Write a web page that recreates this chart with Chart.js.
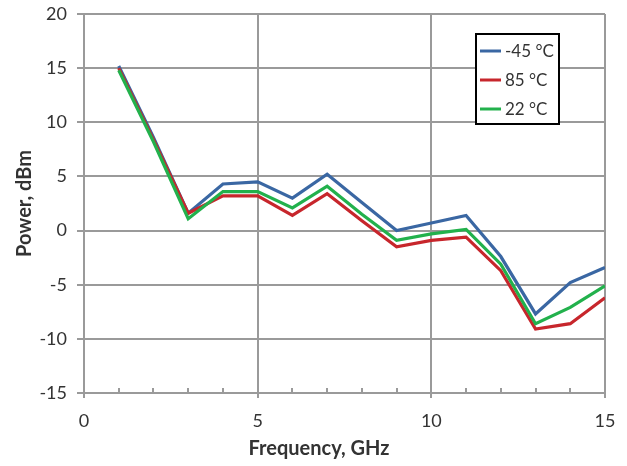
<!DOCTYPE html>
<html>
<head>
<meta charset="utf-8">
<script src="https://cdn.jsdelivr.net/npm/chart.js@4/dist/chart.umd.min.js"></script>
<style>
html,body{margin:0;padding:0;background:#fff;}
#wrap{width:627px;height:466px;position:relative;}
</style>
</head>
<body>
<div id="wrap"><canvas id="c" width="627" height="466"></canvas></div>
<script>
const frequencies = [1,2,3,4,5,6,7,8,9,10,11,12,13,14,15];
const seriesLabels = ['-45 °C','85 °C','22 °C'];
const powerMinus45 = [15.2, 8.6, 1.6, 4.3, 4.5, 3.0, 5.2, 2.6, 0.0, 0.7, 1.4, -2.4, -7.7, -4.8, -3.4];
const power85      = [15.0, 8.4, 1.6, 3.2, 3.2, 1.4, 3.4, 0.9, -1.5, -0.9, -0.6, -3.7, -9.1, -8.6, -6.2];
const power22      = [14.8, 8.2, 1.1, 3.6, 3.6, 2.1, 4.1, 1.5, -0.9, -0.3, 0.1, -3.1, -8.6, -7.1, -5.1];
const xTicks = [0,5,10,15];
const yTicks = [-15,-10,-5,0,5,10,15,20];
const xTitle = 'Frequency, GHz';
const yTitle = 'Power, dBm';

const colors = ['#3A67A3','#C7262C','#22B14C'];
const GRID = '#9A9A9A';
const TXT = '#333333';

function pts(arr){ return frequencies.map((f,i)=>({x:f,y:arr[i]})); }

const extras = {
  id:'extras',
  afterDraw(chart){
    const ctx = chart.ctx;
    const xs = chart.scales.x;
    const ca = chart.chartArea;
    ctx.save();
    ctx.strokeStyle = GRID; ctx.lineWidth = 2;
    for (let v = 1; v < 15; v++) {
      if (v % 5 === 0) continue;
      const px = Math.round(xs.getPixelForValue(v));
      ctx.beginPath(); ctx.moveTo(px, ca.bottom); ctx.lineTo(px, ca.bottom - 5); ctx.stroke();
    }
    ctx.fillStyle = TXT;
    ctx.font = 'bold 20px Lato';
    ctx.textAlign = 'center'; ctx.textBaseline = 'middle';
    ctx.fillText(xTitle, 319, 449);
    ctx.translate(25, (ca.top + ca.bottom)/2);
    ctx.rotate(-Math.PI/2);
    ctx.fillText(yTitle, 0, 0);
    ctx.restore();
    ctx.save();
    const lx = 476, ly = 34, lw = 83, lh = 90;
    ctx.fillStyle = '#fff';
    ctx.fillRect(lx, ly, lw, lh);
    ctx.strokeStyle = '#000'; ctx.lineWidth = 2;
    ctx.strokeRect(lx, ly, lw, lh);
    const rows = [51, 80, 109];
    ctx.font = '17px Lato'; ctx.textAlign = 'left'; ctx.textBaseline = 'middle';
    [0,1,2].forEach((di, k) => {
      const ds = chart.data.datasets[di];
      ctx.strokeStyle = ds.borderColor; ctx.lineWidth = 3;
      ctx.beginPath(); ctx.moveTo(480, rows[k]); ctx.lineTo(501, rows[k]); ctx.stroke();
      ctx.fillStyle = TXT;
      ctx.fillText(ds.label, 505, rows[k] + 1);
    });
    ctx.restore();
  }
};

new Chart(document.getElementById('c'), {
  type: 'line',
  data: {
    datasets: [
      {label: seriesLabels[0], data: pts(powerMinus45), borderColor: colors[0], order: 2},
      {label: seriesLabels[1], data: pts(power85), borderColor: colors[1], order: 1},
      {label: seriesLabels[2], data: pts(power22), borderColor: colors[2], order: 0}
    ]
  },
  options: {
    responsive: false,
    animation: false,
    devicePixelRatio: 1,
    layout: {padding: {left: 0, right: 22, top: 14, bottom: 0}},
    elements: {
      line: {borderWidth: 3.2, tension: 0, fill: false, borderJoinStyle: 'miter'},
      point: {radius: 0, hoverRadius: 0}
    },
    plugins: {legend: {display: false}, tooltip: {enabled: false}, title: {display: false}},
    scales: {
      x: {
        type: 'linear', min: 0, max: 15,
        afterFit(s){ s.height = 73; s.paddingLeft = 0; s.paddingRight = 0; },
        afterBuildTicks(s){ s.ticks = [0,1,2,3,4,5,6,7,8,9,10,11,12,13,14,15].map(v=>({value:v})); },
        ticks: {
          autoSkip: false, maxRotation: 0, color: TXT, padding: 12,
          font: {family: 'Lato', size: 18},
          callback: (v) => xTicks.includes(v) ? String(v) : ''
        },
        grid: {
          color: (c) => (c.tick && xTicks.includes(c.tick.value)) ? GRID : 'rgba(0,0,0,0)',
          tickColor: (c) => (c.tick && xTicks.includes(c.tick.value)) ? GRID : 'rgba(0,0,0,0)',
          lineWidth: 2, tickLength: 5
        },
        border: {color: GRID, width: 2}
      },
      y: {
        min: -15, max: 20,
        afterFit(s){ s.width = 84; s.paddingTop = 0; s.paddingBottom = 0; },
        afterBuildTicks(s){ s.ticks = yTicks.map(v=>({value:v})); },
        ticks: {color: TXT, padding: 10, font: {family: 'Lato', size: 18}},
        grid: {color: GRID, lineWidth: 2, tickLength: 7, tickColor: GRID},
        border: {color: GRID, width: 2}
      }
    }
  },
  plugins: [extras]
});
</script>
</body>
</html>
